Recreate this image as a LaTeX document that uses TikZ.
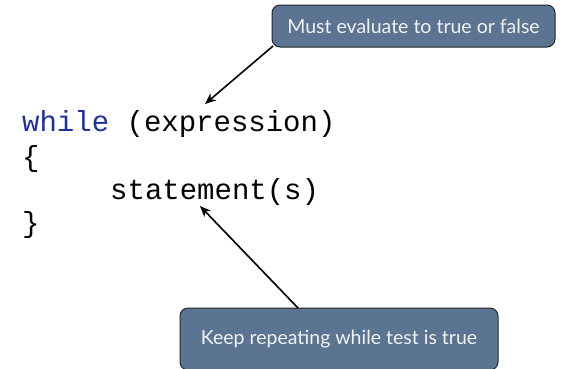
\documentclass[tikz,border=0pt]{standalone}
\usepackage{fontspec}
\setmainfont{Lato}
\newfontfamily\codefont{Liberation Mono}
\usetikzlibrary{arrows.meta}
\definecolor{calloutfill}{HTML}{5B7492}
\definecolor{keywordblue}{HTML}{1E2FA0}
\tikzset{
  callout/.style={draw=black!85, line width=1pt, fill=calloutfill, rounded corners=8pt,
    text=white!95!black, font=\fontsize{19.5}{22}\selectfont, inner sep=0pt},
  code/.style={anchor=base west, inner sep=0pt, font=\codefont\fontsize{29}{31}\selectfont},
  pointer/.style={line width=1.6pt, -{Stealth[length=11pt,width=9pt]}}
}
\begin{document}
\begin{tikzpicture}[x=1pt,y=-1pt]
  \useasboundingbox (0,0) rectangle (565,368);
  % callout boxes
  \node[callout, minimum width=283pt, minimum height=42pt] (cond) at (413.5,26) {Must evaluate to true or false};
  \node[callout, minimum width=318pt, minimum height=62pt] (loop) at (339,339) {Keep repeating while test is true};
  % code lines
  \node[code] (w) at (22,131) {\textcolor{keywordblue}{while} (expression)};
  \node[code] (ob) at (22,166) {\{};
  \node[code] (st) at (110,199) {statement(s)};
  \node[code] (cb) at (22,232) {\}};
  % pointer ends
  \coordinate (condtip) at (205,104);
  \coordinate (sttip) at (200,206);
  \coordinate (condfoot) at (273,46);
  \coordinate (loopfoot) at (298,308);
  \draw[pointer] (condfoot) -- (condtip);
  \draw[pointer] (loopfoot) -- (sttip);
\end{tikzpicture}
\end{document}
